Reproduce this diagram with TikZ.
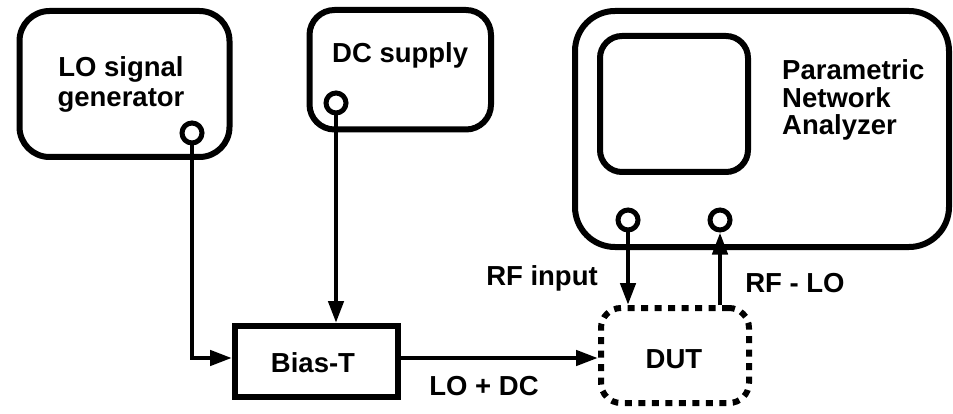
\documentclass[tikz,border=0pt]{standalone}
\usepackage{fontspec}
\setmainfont{Liberation Sans}
\usetikzlibrary{arrows.meta,calc}
\newcommand\lblfont{\fontsize{27.5}{30}\selectfont\bfseries}
\begin{document}
\begin{tikzpicture}[x=1pt,y=-1pt,
  box/.style={draw,line width=6pt,inner sep=0pt,rounded corners=#1},
  sbox/.style={draw,line width=6pt,inner sep=0pt},
  dutbox/.style={draw,line width=6pt,inner sep=0pt,rounded corners=20pt,dash pattern=on 7pt off 6.5pt},
  port/.style={draw,circle,line width=5pt,minimum size=20pt,inner sep=0pt,fill=white},
  lbl/.style={font=\lblfont,inner sep=0pt},
  conn/.style={line width=4.5pt},
  arr/.style={line width=4.5pt,-{Triangle[length=22pt,width=15pt]}}]
\useasboundingbox (0,0) rectangle (953,414);
% boxes
\node[box=30pt,minimum width=210pt,minimum height=146pt] (lo) at (124.5,84) {};
\node[box=25pt,minimum width=181.5pt,minimum height=119.5pt] (dc) at (400.25,69.75) {};
\node[box=40pt,minimum width=374pt,minimum height=236pt] (pna) at (762,129) {};
\node[box=22pt,minimum width=148pt,minimum height=136pt] (scr) at (674,104) {};
\node[sbox,minimum width=162.5pt,minimum height=71pt] (biast) at (316.25,361.5) {};
\node[dutbox,minimum width=148pt,minimum height=95pt] (dut) at (675,355.5) {};
% texts
\node[lbl,anchor=base] (lot1) at (121,77) {LO signal};
\node[lbl,anchor=base] (lot2) at (121,107) {generator};
\node[lbl,anchor=base west] (dct) at (332,63) {DC supply};
\node[lbl,anchor=base west] (pt1) at (782,80) {Parametric};
\node[lbl,anchor=base west] (pt2) at (782,107.5) {Network};
\node[lbl,anchor=base west] (pt3) at (782,135) {Analyzer};
\node[lbl,anchor=base] (btt) at (313,372) {Bias-T};
\node[lbl,anchor=base] (dutt) at (674,368) {DUT};
\node[lbl,anchor=base] (lodc) at (484,395) {LO + DC};
\node[lbl,anchor=base] (rfin) at (542,285) {RF input};
\node[lbl,anchor=base] (rflo) at (795,292) {RF - LO};
% ports
\node[port] (lop) at (192,133) {};
\node[port] (dcp) at (336,103) {};
\node[port] (pa) at (628,220) {};
\node[port] (pb) at (720,220) {};
\coordinate (row) at (0,358);
% connectors
\draw[arr] (lop.south) |- (biast.west |- row);
\draw[arr] (dcp.south) -- (dcp.south |- biast.north);
\draw[arr] (biast.east |- row) -- (dut.west |- row);
\draw[arr] (pa.south) -- (pa.south |- dut.north);
\draw[arr] (pb.south |- dut.north) -- (pb.south);
\end{tikzpicture}
\end{document}
